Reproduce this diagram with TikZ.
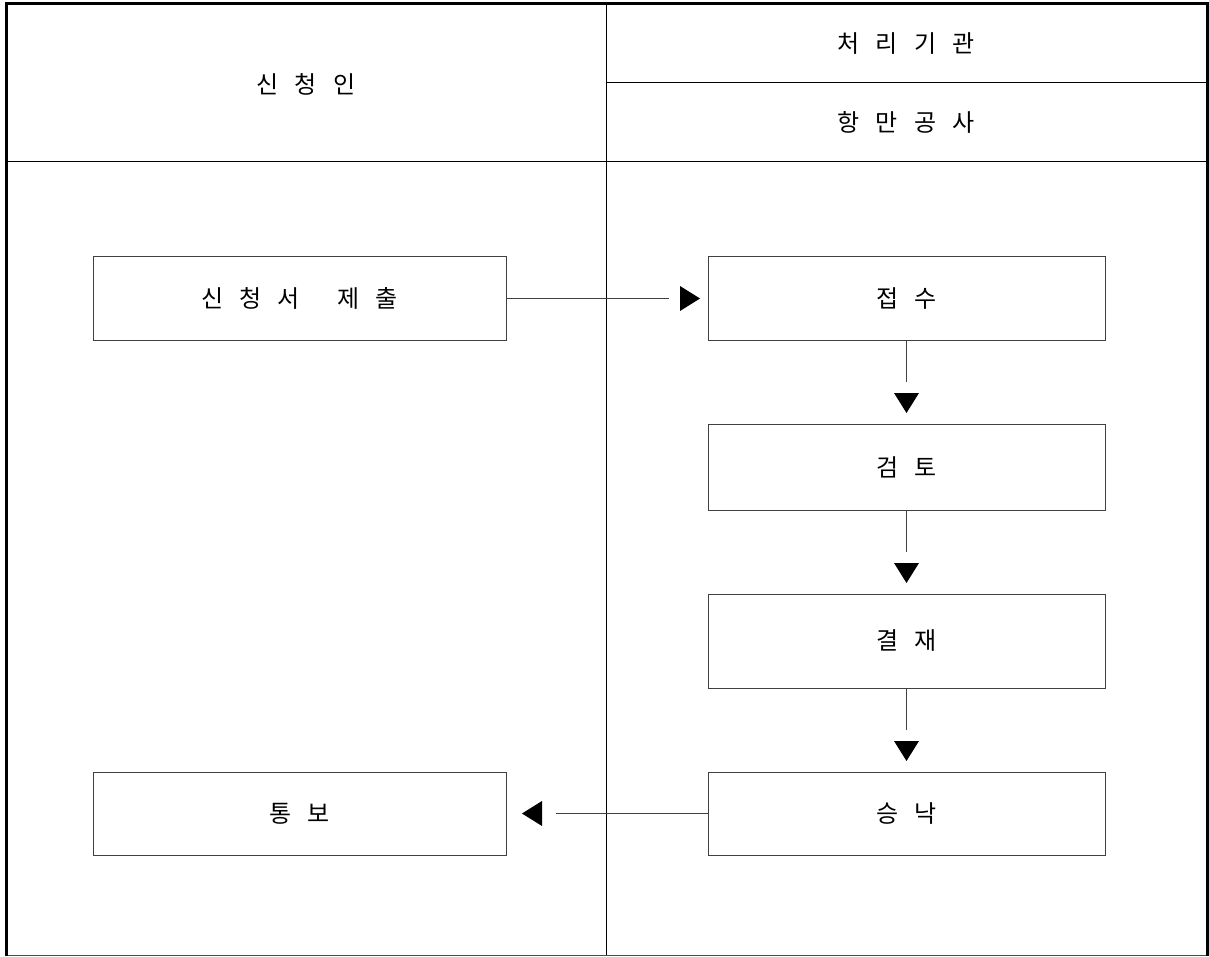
\documentclass[tikz,border=0pt]{standalone}
\usepackage{fontspec}
\newfontfamily\kr{Noto Sans CJK KR}
\newcommand\krtxt{\kr\fontsize{24}{28}\selectfont}
\newcommand\gp{\hspace{16pt}}
\begin{document}
\begin{tikzpicture}[x=1pt,y=-1pt,
  every node/.style={font=\krtxt, inner sep=0pt},
  stepbox/.style={draw=black!75, line width=1pt, minimum width=#1, anchor=center},
  conn/.style={draw=black!75, line width=1pt},
  tipfill/.style={fill=black}
]
\useasboundingbox (0,0) rectangle (1209,957);
% frame
\draw[line width=1pt, black!70] (5,955.5) -- (1207,955.5);
\draw[line width=1pt] (606,3) -- (606,955);
\draw[line width=1pt] (5,162) -- (1207,162);
\draw[line width=1pt] (606,83) -- (1207,83);
\draw[line width=3pt] (6.5,956) -- (6.5,3.5) -- (1207.5,3.5) -- (1207.5,956);
% headers
\node (h1) at (306,84) {신\gp 청\gp 인};
\node (h2) at (906,44) {처\gp 리\gp 기\gp 관};
\node (h3) at (906,122) {항\gp 만\gp 공\gp 사};
% boxes
\node[stepbox=413pt, minimum height=83pt] (a) at (299.5,298.5) {신\gp 청\gp 서\hspace{38pt}제\gp 출};
\node[stepbox=397pt, minimum height=83pt] (b) at (906.5,298.5) {접\gp 수};
\node[stepbox=397pt, minimum height=86pt] (c) at (906.5,467) {검\gp 토};
\node[stepbox=397pt, minimum height=94pt] (d) at (906.5,641) {결\gp 재};
\node[stepbox=397pt, minimum height=83pt] (e) at (906.5,813.5) {승\gp 낙};
\node[stepbox=413pt, minimum height=83pt] (f) at (299.5,813.5) {통\gp 보};
% connectors
\coordinate (ab) at (669,298.5);
\draw[conn] (a.east) -- (ab);
\fill[tipfill] (680,286) -- (700,298.5) -- (680,311) -- cycle;
\coordinate (bc) at (906.5,382);
\draw[conn] (b.south) -- (bc);
\fill[tipfill] (894,393) -- (919,393) -- (906.5,413) -- cycle;
\coordinate (cd) at (906.5,552);
\draw[conn] (c.south) -- (cd);
\fill[tipfill] (894,563) -- (919,563) -- (906.5,583) -- cycle;
\coordinate (de) at (906.5,730);
\draw[conn] (d.south) -- (de);
\fill[tipfill] (894,741) -- (919,741) -- (906.5,761) -- cycle;
\coordinate (ef) at (556,813.5);
\draw[conn] (e.west) -- (ef);
\fill[tipfill] (542,801) -- (522,813.5) -- (542,826) -- cycle;
\end{tikzpicture}
\end{document}
